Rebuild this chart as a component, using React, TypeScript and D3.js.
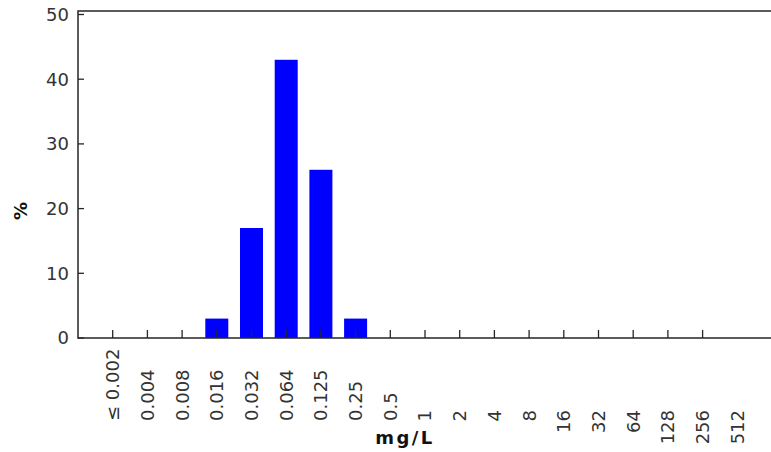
import React from "react";
import * as d3 from "d3";

// MIC distribution (mg/L) — percentage of isolates per dilution
const categories = [
  "≤ 0.002", "0.004", "0.008", "0.016", "0.032", "0.064", "0.125", "0.25", "0.5",
  "1", "2", "4", "8", "16", "32", "64", "128", "256", "512",
];
const percents = [0, 0, 0, 3, 17, 43, 26, 3, 0, 0, 0, 0, 0, 0, 0, 0, 0, 0, 0];
// concentrations of 1 mg/L and above are labelled from the top
const concentrations = [
  0.002, 0.004, 0.008, 0.016, 0.032, 0.064, 0.125, 0.25, 0.5,
  1, 2, 4, 8, 16, 32, 64, 128, 256, 512,
];
const yTicks = [0, 10, 20, 30, 40, 50];

const W = 771;
const H = 452;
const left = 78;
const right = 772;
const top = 11;
const bottom = 338;
const axisColor = "#262626";
const font = "'DejaVu Sans', Verdana, sans-serif";

export default function App() {
  const x = d3.scalePoint<string>().domain(categories).range([left, right]).padding(1);
  const y = d3.scaleLinear().domain([0, 50]).range([bottom, 14.5]);
  const barW = 23;

  return (
    <svg width={W} height={H} style={{ position: "absolute", left: 0, top: 0, background: "#fff" }}>
      {/* bars */}
      {percents.map((v, i) =>
        v > 0 ? (
          <rect
            key={categories[i]}
            x={(x(categories[i]) as number) - barW / 2}
            y={y(v)}
            width={barW}
            height={bottom - y(v)}
            fill="#0000ff"
          />
        ) : null
      )}

      {/* frame: left, top, bottom */}
      <path
        d={`M${right},${top}H${left}V${bottom}H${right}`}
        fill="none"
        stroke={axisColor}
        strokeWidth={1.5}
      />

      {/* y ticks */}
      {yTicks.map((t) => (
        <g key={t}>
          <line x1={left} x2={left + 6} y1={y(t)} y2={y(t)} stroke={axisColor} strokeWidth={1.3} />
          <text
            x={69}
            y={y(t)}
            dy="0.36em"
            textAnchor="end"
            fontFamily={font}
            fontSize={18}
            fill="#333"
          >
            {t}
          </text>
        </g>
      ))}

      {/* x ticks (inside, last one omitted) */}
      {categories.slice(0, -1).map((c) => (
        <line
          key={c}
          x1={x(c)}
          x2={x(c)}
          y1={bottom}
          y2={bottom - 8}
          stroke={axisColor}
          strokeWidth={1.3}
        />
      ))}

      {/* x labels, rotated */}
      {categories.map((c, i) => {
        const cx = x(c) as number;
        const fromTop = concentrations[i] >= 1;
        const ty = fromTop ? 410 : 421;
        return (
          <text
            key={c}
            transform={`translate(${cx},${ty}) rotate(-90)`}
            dy="0.36em"
            textAnchor={fromTop ? "end" : "start"}
            fontFamily={font}
            fontSize={18}
            fill="#333"
          >
            {c}
          </text>
        );
      })}

      {/* axis titles */}
      <text
        x={405}
        y={444}
        textAnchor="middle"
        fontFamily={font}
        fontSize={18}
        fontWeight="bold"
        letterSpacing={2.5}
        fill="#111"
      >
        mg/L
      </text>
      <text
        transform="translate(27,211) rotate(-90)"
        textAnchor="middle"
        fontFamily={font}
        fontSize={18}
        fontWeight="bold"
        fill="#111"
      >
        %
      </text>
    </svg>
  );
}
